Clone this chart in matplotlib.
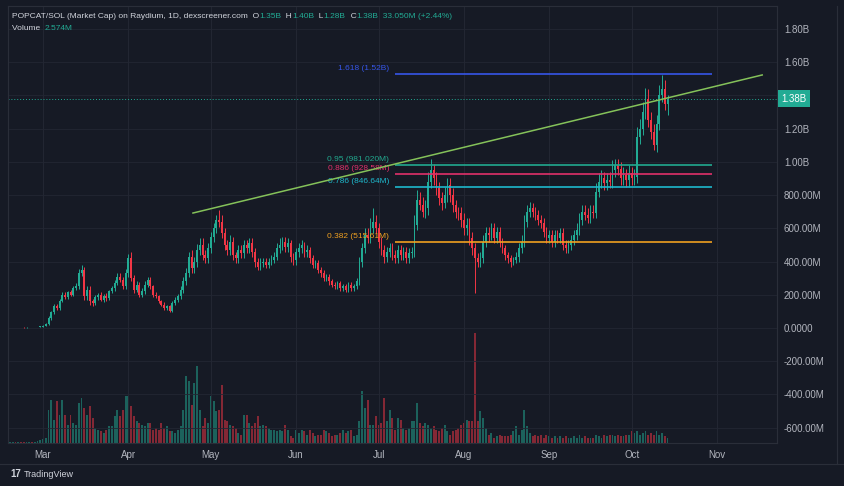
import numpy as np
import pandas as pd
import matplotlib
matplotlib.use('Agg')
import matplotlib.pyplot as plt
import matplotlib.dates as mdates

plt.rcParams['font.family'] = ['Liberation Sans', 'DejaVu Sans']

# daily candles, market cap in millions, first day 2024-02-18
start = '2024-02-18'
close = [5, 6, 5, 6, 5, 4, 5, 6, 5, 6,
         7, 8, 14, 25, 60, 95, 130, 120, 165, 200,
         185, 215, 200, 240, 250, 330, 350, 190, 230, 160,
         150, 185, 200, 170, 195, 180, 220, 240, 270, 310,
         290, 250, 330, 420, 300, 230, 260, 200, 220, 260,
         290, 250, 200, 190, 160, 140, 120, 130, 105, 150,
         170, 190, 230, 280, 330, 430, 360, 400, 470, 500,
         440, 420, 480, 550, 600, 650, 640, 570, 500, 470,
         520, 440, 420, 470, 450, 500, 480, 510, 460, 400,
         370, 390, 400, 380, 400, 410, 430, 480, 500, 520,
         490, 510, 430, 410, 460, 480, 500, 460, 470, 420,
         380, 390, 350, 330, 300, 310, 280, 260, 250, 270,
         240, 250, 230, 260, 240, 250, 280, 400, 480, 560,
         540, 600, 640, 600, 520, 470, 430, 460, 480, 440,
         420, 470, 440, 460, 420, 450, 460, 620, 770, 740,
         700, 720, 880, 950, 900, 840, 780, 750, 800, 860,
         800, 740, 700, 690, 650, 600, 620, 540, 480, 420,
         400, 420, 520, 570, 560, 600, 540, 580, 520, 480,
         440, 420, 400, 410, 430, 480, 520, 640, 700, 720,
         700, 680, 650, 630, 580, 540, 560, 520, 560, 540,
         570, 500, 480, 500, 530, 560, 590, 650, 700, 680,
         660, 700, 690, 820, 880, 900, 870, 890, 880, 950,
         980, 960, 900, 920, 890, 930, 900, 910, 1150, 1200,
         1300, 1380, 1250, 1180, 1100, 1230, 1400, 1440, 1350, 1380]
upper_wick = [1, 1, 1, 1, 1, 1, 1, 1, 1, 1,
              1, 2, 3, 5, 10, 10, 15, 12, 10, 15,
              15, 10, 15, 15, 20, 25, 30, 15, 20, 20,
              15, 15, 10, 15, 10, 15, 10, 15, 20, 20,
              20, 15, 25, 25, 40, 20, 20, 15, 20, 20,
              20, 15, 10, 15, 10, 10, 15, 10, 10, 15,
              15, 15, 20, 25, 30, 30, 40, 30, 35, 40,
              40, 30, 30, 30, 30, 30, 60, 40, 30, 30,
              40, 30, 20, 30, 30, 30, 30, 30, 30, 20,
              20, 30, 20, 20, 20, 30, 30, 30, 40, 30,
              30, 30, 20, 20, 20, 30, 30, 20, 30, 20,
              20, 20, 20, 20, 20, 15, 15, 15, 15, 15,
              15, 15, 15, 15, 15, 15, 20, 30, 30, 40,
              40, 60, 80, 40, 30, 30, 30, 30, 30, 30,
              30, 30, 30, 30, 30, 30, 30, 60, 60, 50,
              50, 50, 60, 70, 40, 40, 40, 40, 50, 40,
              40, 40, 30, 30, 40, 40, 40, 40, 40, 30,
              30, 40, 40, 40, 40, 30, 30, 30, 30, 20,
              20, 20, 20, 20, 30, 30, 40, 40, 40, 40,
              30, 30, 30, 30, 30, 30, 30, 30, 30, 30,
              30, 30, 30, 30, 30, 30, 40, 40, 40, 40,
              40, 40, 40, 50, 50, 50, 40, 40, 50, 60,
              40, 40, 40, 50, 40, 50, 40, 50, 60, 60,
              60, 65, 60, 50, 50, 50, 60, 85, 50, 20]
lower_wick = [1, 1, 1, 1, 1, 1, 1, 1, 1, 1,
              1, 1, 2, 3, 5, 10, 10, 10, 10, 10,
              10, 10, 10, 10, 10, 15, 15, 20, 20, 20,
              15, 10, 15, 10, 15, 15, 10, 10, 15, 10,
              15, 15, 15, 20, 20, 20, 15, 15, 15, 15,
              15, 15, 15, 10, 10, 10, 10, 10, 10, 10,
              10, 15, 15, 20, 20, 25, 30, 30, 30, 30,
              30, 30, 30, 30, 30, 30, 30, 30, 30, 30,
              30, 30, 30, 30, 30, 30, 30, 30, 30, 30,
              20, 20, 20, 20, 20, 20, 20, 20, 30, 30,
              30, 30, 30, 30, 30, 30, 30, 30, 30, 30,
              20, 20, 20, 20, 20, 20, 20, 15, 15, 15,
              15, 15, 15, 15, 15, 15, 15, 20, 30, 30,
              30, 30, 30, 30, 40, 30, 40, 30, 30, 30,
              30, 30, 30, 30, 30, 30, 30, 30, 30, 30,
              30, 40, 40, 40, 40, 40, 40, 40, 30, 40,
              40, 40, 40, 40, 40, 40, 40, 40, 40, 210,
              30, 30, 30, 30, 40, 30, 30, 30, 30, 30,
              30, 30, 30, 20, 20, 30, 30, 30, 30, 30,
              30, 30, 30, 30, 30, 30, 30, 30, 30, 30,
              30, 30, 30, 30, 30, 30, 30, 30, 30, 30,
              30, 30, 30, 30, 30, 40, 40, 40, 40, 40,
              40, 40, 40, 40, 40, 40, 40, 40, 40, 40,
              40, 40, 40, 40, 30, 40, 40, 40, 40, 70]
volume = [1, 1, 1, 1, 1, 1, 1, 1, 1, 1, 2, 3, 4, 5,
          33, 43, 23, 42, 28, 43, 28, 18, 28, 20,
          18, 40, 45, 35, 28, 37, 25, 15, 13, 12,
          10, 13, 17, 17, 27, 33, 27, 33, 47, 47,
          37, 27, 22, 20, 18, 17, 20, 20, 13, 15,
          13, 20, 15, 17, 12, 12, 10, 13, 17, 33,
          67, 62, 38, 60, 77, 33, 17, 25, 20, 47,
          42, 32, 33, 58, 23, 22, 18, 17, 15, 10,
          8, 28, 28, 20, 17, 20, 27, 17, 18, 17,
          15, 13, 13, 12, 13, 12, 18, 13, 7, 5,
          13, 10, 13, 12, 8, 13, 10, 7, 8, 8,
          13, 12, 10, 7, 8, 8, 10, 13, 10, 12,
          13, 7, 8, 22, 52, 35, 43, 18, 18, 27,
          18, 20, 45, 22, 33, 25, 13, 25, 23, 15,
          13, 15, 22, 22, 40, 20, 17, 20, 18, 15,
          17, 13, 12, 15, 18, 12, 8, 12, 13, 15,
          18, 20, 23, 22, 22,
          110,
          22, 32, 25, 15, 8, 10, 5, 7, 8, 7,
          7, 7, 8, 12, 17, 8, 13, 33, 17, 10,
          7, 8, 7, 8, 5, 8, 7, 5, 7, 5,
          7, 5, 7, 5,
          5, 7, 5, 8, 5, 7, 5, 5,
          5, 8, 7, 5, 8, 7, 8, 8, 7, 8,
          7, 7, 8, 8, 12, 10, 12, 8, 10, 12,
          8, 10, 8, 12, 8, 10, 7, 5]

fib_labels = ['1.618 (1.52B)', '0.95 (981.020M)', '0.886 (928.58M)',
              '0.786 (846.64M)', '0.382 (515.61M)']
fib_values = [1528, 981.02, 928.58, 846.64, 515.61]
fib_colors = ['#3656e8', '#22a98f', '#e0306a', '#1eb8cc', '#f0a020']
fib_start, fib_end = '2024-07-07', '2024-10-30'

trend_dates = ['2024-04-24 12:00', '2024-11-17 10:00']
trend_values = [692, 1523]
last_price = 1380

tick_values = [-600, -400, -200, 0, 200, 400, 600, 800, 1000, 1200, 1400, 1600, 1800]
tick_labels = ['-600.00M', '-400.00M', '-200.00M', '0.0000', '200.00M', '400.00M',
               '600.00M', '800.00M', '1.00B', '1.20B', '', '1.60B', '1.80B']

BG = '#161a25'
GRID = '#232733'
TXT = '#b2b5be'
UP, DOWN = '#22ab94', '#f23645'

dates = pd.date_range(start, periods=len(close), freq='D')
c = np.array(close, float)
o = np.concatenate([[c[0]], c[:-1]])
hi = np.maximum(o, c) + np.array(upper_wick)
lo = np.minimum(o, c) - np.array(lower_wick)
colors = np.where(c >= o, UP, DOWN)

fig = plt.figure(figsize=(8.44, 4.86), dpi=100, facecolor=BG)
rect = [8 / 844, 43 / 486, 769 / 844, 437 / 486]
ax_v = fig.add_axes(rect)
ax = fig.add_axes(rect, sharex=ax_v)
ax.patch.set_visible(False)

# volume behind the candles
ax_v.set_facecolor(BG)
ax_v.bar(dates, volume, width=0.7, color=colors, alpha=0.5, linewidth=0)
ax_v.set_ylim(0, 437)
ax_v.set_yticks([])
for s in ax_v.spines.values():
    s.set_visible(False)

x0 = pd.Timestamp(start)
ax.set_xlim(x0 - pd.Timedelta(days=0.73), x0 + pd.Timedelta(days=278.8))
ax.set_ylim(-692, 1938)

ax.vlines(dates, lo, hi, colors=colors, lw=0.7, zorder=3)
ax.bar(dates, np.maximum(np.abs(c - o), 3), bottom=np.minimum(o, c), width=0.62,
       color=colors, linewidth=0, zorder=3)

# fib levels
for lab, val, col in zip(fib_labels, fib_values, fib_colors):
    ax.hlines(val, pd.Timestamp(fib_start), pd.Timestamp(fib_end), color=col, lw=1.2, zorder=4)
    ax.text(pd.Timestamp(fib_start) - pd.Timedelta(days=2.2), val + 33, lab, color=col,
            ha='right', va='center', fontsize=6)

ax.plot(pd.to_datetime(trend_dates), trend_values, color='#85c25a', lw=1.1, zorder=5)

ax.axhline(last_price, color=UP, ls=(0, (1, 2)), lw=0.7, zorder=2)
ax.text(1.0 + 4 / 769, last_price, '1.38B', transform=ax.get_yaxis_transform(),
        color='white', fontsize=7, ha='left', va='center',
        bbox=dict(boxstyle='square,pad=0.35', fc=UP, ec='none'))

ax.yaxis.tick_right()
ax.set_yticks(tick_values)
ax.set_yticklabels(tick_labels)
ax.xaxis.set_major_locator(mdates.MonthLocator())
ax.xaxis.set_major_formatter(mdates.DateFormatter('%b'))
ax.tick_params(colors=TXT, labelsize=7, length=0)
ax.tick_params(axis='y', pad=5)
ax.tick_params(axis='x', pad=5)
plt.setp(ax_v.get_xticklabels(), visible=False)
ax_v.tick_params(length=0)
ax.grid(color=GRID, lw=0.6, zorder=0)
ax_v.grid(axis='x', color=GRID, lw=0.6)
for s in ax.spines.values():
    s.set_color('#2a2e39')

# header
hdr = [('POPCAT/SOL (Market Cap) on Raydium, 1D, dexscreener.com  O', '#d1d4dc'),
       ('1.35B', UP), ('  H', '#d1d4dc'), ('1.40B', UP), ('  L', '#d1d4dc'), ('1.28B', UP),
       ('  C', '#d1d4dc'), ('1.38B', UP), ('  33.050M (+2.44%)', UP)]
t = fig.text(12 / 844, 1 - 16 / 486, hdr[0][0], color=hdr[0][1], fontsize=6, va='center')
for s, col in hdr[1:]:
    t = ax.annotate(s, xy=(1, 0), xycoords=t, va='bottom', color=col, fontsize=6)
t = fig.text(12 / 844, 1 - 28 / 486, 'Volume  ', color='#d1d4dc', fontsize=6, va='center')
ax.annotate('2.574M', xy=(1, 0), xycoords=t, va='bottom', color=UP, fontsize=6)

fig.add_artist(plt.Line2D([0, 1], [1 - 464 / 486] * 2, color='#2a2e39', lw=0.8))
fig.add_artist(plt.Line2D([837 / 844] * 2, [1 - 464 / 486, 1 - 6 / 486], color='#2a2e39', lw=0.8))
fig.text(10 / 844, 1 - 474 / 486, '17', color='#d1d4dc', fontsize=7, fontweight='bold', va='center')
fig.text(24 / 844, 1 - 474 / 486, 'TradingView', color='#d1d4dc', fontsize=6.5, va='center')

fig.savefig('out.png', dpi=100, facecolor=BG)
